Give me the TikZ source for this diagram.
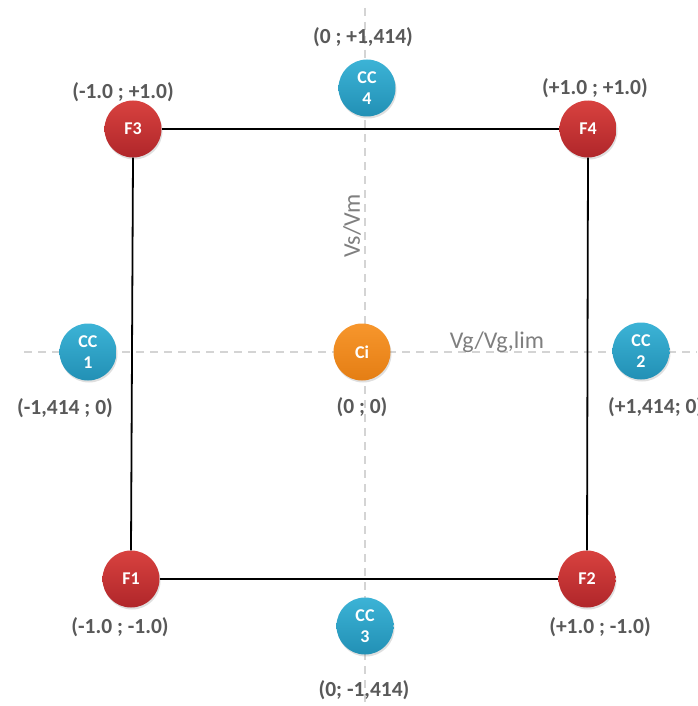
\documentclass[tikz,border=0pt]{standalone}
\usepackage{fontspec}
\setmainfont{Carlito}
\usetikzlibrary{shadows}
\definecolor{labelgrey}{HTML}{595959}
\definecolor{axisgrey}{HTML}{D4D4D4}
\definecolor{axistext}{HTML}{7F7F7F}
\definecolor{redtop}{HTML}{D8423F}
\definecolor{redbot}{HTML}{B0262A}
\definecolor{bluetop}{HTML}{3CB3D6}
\definecolor{bluebot}{HTML}{2290B5}
\definecolor{orangetop}{HTML}{F7962C}
\definecolor{orangebot}{HTML}{E47E14}
\tikzset{
  disc/.style={circle, minimum size=57pt, inner sep=0pt, text=white,
    font=\fontsize{18}{21}\selectfont\bfseries, align=center,
    drop shadow={shadow xshift=1pt, shadow yshift=-2pt, opacity=0.25}},
  fnode/.style={disc, top color=redtop, bottom color=redbot},
  ccnode/.style={disc, top color=bluetop, bottom color=bluebot},
  cinode/.style={disc, top color=orangetop, bottom color=orangebot},
  coord/.style={text=labelgrey, font=\fontsize{21.5}{24}\selectfont\bfseries, inner sep=0pt},
  axis/.style={axisgrey, line width=1.5pt, dash pattern=on 8pt off 6pt},
  edge/.style={black, line width=1.8pt},
  axislabel/.style={text=axistext, font=\fontsize{24}{26}\selectfont, inner sep=0pt}
}
\begin{document}
\begin{tikzpicture}[x=1pt, y=-1pt]
  \useasboundingbox (0,0) rectangle (697,706);
  \fill[white] (0,0) rectangle (697,706);

  % dashed axes
  \coordinate (ytop) at (365,8);
  \coordinate (ybot) at (365,706);
  \coordinate (xleft) at (24,352);
  \coordinate (xright) at (697,352);
  \draw[axis] (ytop) -- (ybot);
  \draw[axis] (xleft) -- (xright);

  % corner points
  \node[fnode] (F3) at (133,129) {F3};
  \node[fnode] (F4) at (588,129) {F4};
  \node[fnode] (F1) at (131,579) {F1};
  \node[fnode] (F2) at (587,579) {F2};

  % square edges
  \draw[edge] (F3.east) -- (F4.west);
  \draw[edge] (F4.south) -- (F2.north);
  \draw[edge] (F2.west) -- (F1.east);
  \draw[edge] (F1.north) -- (F3.south);

  % axial points
  \node[ccnode] (CC4) at (367,88) {CC\\4};
  \node[ccnode] (CC1) at (88,352) {CC\\1};
  \node[ccnode] (CC2) at (641,351) {CC\\2};
  \node[ccnode] (CC3) at (365,626) {CC\\3};
  \node[cinode] (Ci) at (362,352) {Ci};

  % coordinate labels
  \node[coord] (lCC4) at (363,37) {(0 ; +1,414)};
  \node[coord] (lF3) at (123,92) {(-1.0 ; +1.0)};
  \node[coord] (lF4) at (595,88) {(+1.0 ; +1.0)};
  \node[coord] (lCC1) at (65,408) {(-1,414 ; 0)};
  \node[coord] (lCi) at (362,407) {(0 ; 0)};
  \node[coord, anchor=west] (lCC2) at (608,407) {(+1,414; 0)};
  \node[coord] (lF1) at (120,627) {(-1.0 ; -1.0)};
  \node[coord] (lF2) at (600,627) {(+1.0 ; -1.0)};
  \node[coord] (lCC3) at (364,690) {(0; -1,414)};

  % axis names
  \node[axislabel] (xname) at (497,342) {Vg/Vg,lim};
  \node[axislabel, rotate=90] (yname) at (352,226) {Vs/Vm};
\end{tikzpicture}
\end{document}
